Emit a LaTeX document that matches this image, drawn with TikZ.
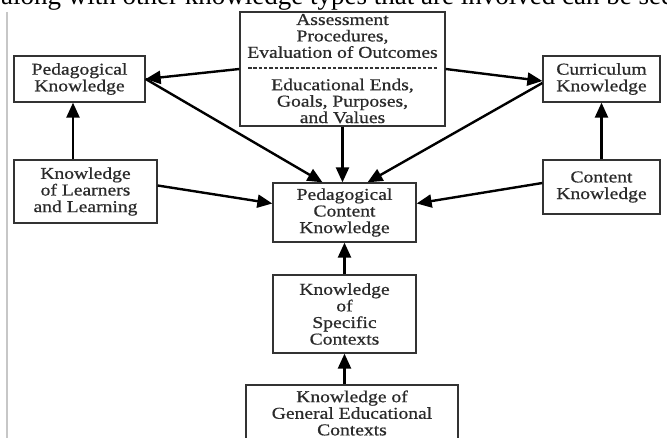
\documentclass[tikz,border=0pt]{standalone}
\usepackage{fontspec}
\setmainfont{Liberation Serif}
\newfontfamily\boxfont{Liberation Serif}[FakeStretch=1.18, FakeBold=0.7]
\usetikzlibrary{arrows.meta}
\definecolor{boxline}{HTML}{333333}
\definecolor{txt}{HTML}{2A2A2A}
\tikzset{
  kbox/.style={draw=boxline, line width=1.3pt, align=center, inner sep=0pt,
    text=txt, font=\boxfont\fontsize{16.6}{16.6}\selectfont},
  ktext/.style={align=center, inner sep=0pt, text=txt,
    font=\boxfont\fontsize{16.6}{16.4}\selectfont},
  arr/.style={line width=2.4pt, -{Triangle[length=15pt,width=13pt]}, black},
}
\begin{document}
\begin{tikzpicture}[x=1pt,y=-1pt]
\clip (0,0) rectangle (667,438);
\useasboundingbox (0,0) rectangle (667,438);
\fill[white] (0,0) rectangle (667,438);
% cropped caption line
\node[anchor=base west, inner sep=0pt, font=\fontsize{27}{29}\selectfont] (cap) at (1,5)
  {along with other knowledge types that are involved can be seen};
% left page edge
\draw[black!22, line width=1.2pt] (7,12) -- (7,438);
% boxes
\node[kbox, minimum width=205pt, minimum height=114pt] (top) at (342.5,69) {};
\node[ktext] (topA) at (342.5,36) {Assessment\\Procedures,\\Evaluation of Outcomes};
\node[ktext] (topB) at (342.5,101) {Educational Ends,\\Goals, Purposes,\\and Values};
\coordinate (dl) at (248,68);
\coordinate (dr) at (438,68);
\draw[boxline, line width=1.1pt, dash pattern=on 3.5pt off 1.8pt] (dl) -- (dr);
\node[kbox, minimum width=131pt, minimum height=46pt] (pk) at (79.5,79) {Pedagogical\\Knowledge};
\node[kbox, minimum width=143pt, minimum height=63pt] (kll) at (85.5,191.5) {Knowledge\\of Learners\\and Learning};
\node[kbox, minimum width=117pt, minimum height=46pt] (ck) at (601.5,79) {Curriculum\\Knowledge};
\node[kbox, minimum width=117pt, minimum height=54pt] (cont) at (601.5,187) {Content\\Knowledge};
\node[kbox, minimum width=143pt, minimum height=59pt] (pck) at (344.5,212.5) {Pedagogical\\Content\\Knowledge};
\node[kbox, minimum width=143pt, minimum height=78pt] (ksc) at (344.5,314) {Knowledge\\of\\Specific\\Contexts};
\node[kbox, minimum width=212pt, minimum height=56pt] (gec) at (352,413) {Knowledge of\\General Educational\\Contexts};
% connectors
\draw[arr] (top.west) -- (pk.east);
\draw[arr] (pk.east) -- ([xshift=-22pt]pck.north);
\draw[arr] (top.south) -- (top.south |- pck.north);
\draw[arr] ([yshift=-4pt]ck.west) -- ([xshift=23pt]pck.north);
\draw[arr] (top.east) -- ([yshift=-2pt]ck.west);
\draw[arr] ([xshift=-12.5pt]kll.north) -- ([xshift=-12.5pt]kll.north |- pk.south);
\draw[arr] ([yshift=6pt]kll.east) -- ([yshift=9pt]pck.west);
\draw[arr] ([yshift=4pt]cont.west) -- ([yshift=9pt]pck.east);
\draw[arr] (cont.north) -- (ck.south);
\draw[arr] (ksc.north) -- (pck.south);
\draw[arr] (ksc.south |- gec.north) -- (ksc.south);
\end{tikzpicture}
\end{document}
